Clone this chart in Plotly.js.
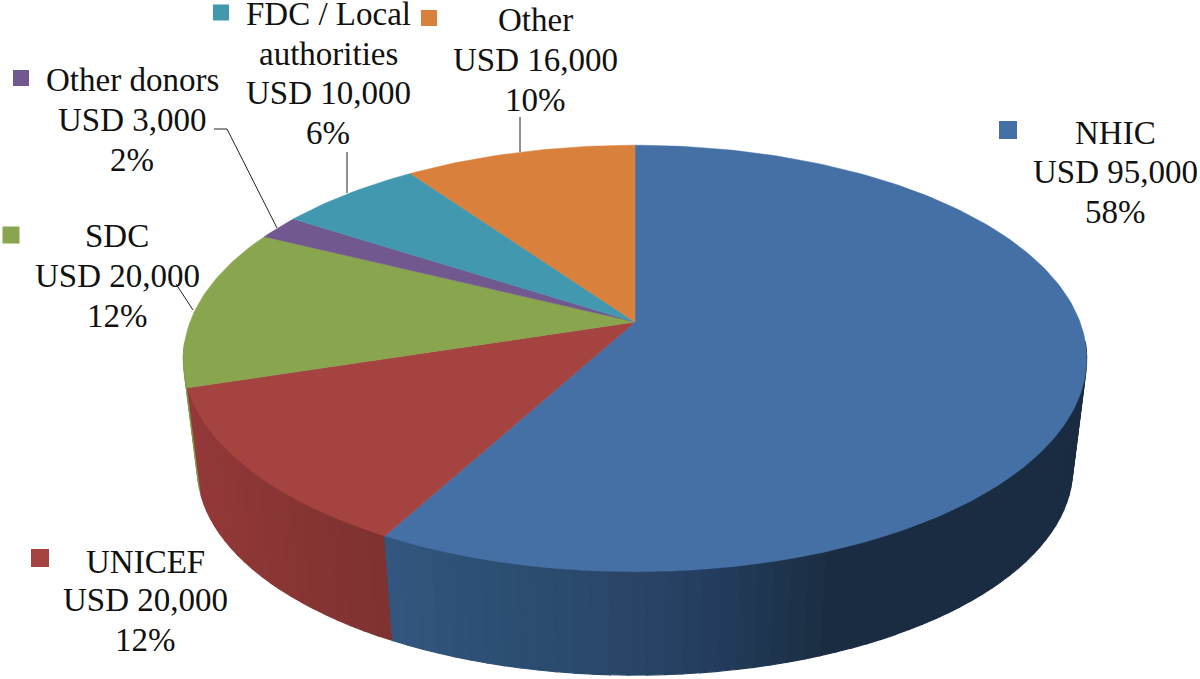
<!DOCTYPE html>
<html><head><meta charset="utf-8">
<script src="https://cdn.plot.ly/plotly-3.0.1.min.js"></script>
<style>html,body{margin:0;padding:0;background:#fff}#c{width:1200px;height:679px}</style>
</head><body><div id="c"></div>
<script>
// data
const categories = ["NHIC","UNICEF","SDC","Other donors","FDC / Local authorities","Other"];
const nameLines = [["NHIC"],["UNICEF"],["SDC"],["Other donors"],["FDC / Local","authorities"],["Other"]];
const values = [95000,20000,20000,3000,10000,16000];
const percents = ["58%","12%","12%","2%","6%","10%"];
const topColors = ["#4570a6","#a54340","#89a54e","#71588f","#4198af","#d9813c"];
// side shading: [x position, colour] stops
const sideStops = [
  [[385,"#33577f"],[520,"#2c4d72"],[640,"#284567"],[720,"#233c5c"],[790,"#1d3249"],[830,"#1a2c42"],[1100,"#1a2c42"]],
  [[190,"#96393a"],[260,"#8c3735"],[330,"#843432"],[392,"#7e3230"]],
  [[180,"#7d9a46"],[200,"#7d9a46"]],
  [[180,"#5f4a7a"],[300,"#5f4a7a"]],
  [[180,"#37819a"],[400,"#37819a"]],
  [[400,"#b96d33"],[640,"#b96d33"]]
];
// label placement
const labelX = [1115,145,117,132,328,535];
const labelLineY = [[133,172,212],[562,600,640],[236,276,316],[80,120,160],[14,54,93,133],[20,60,100]];
const keyX = [1008,40,11,21,221,429];
const keyY = [130,558,235,78,12.5,18];
const keySize = [18,18,17,16,16,16];
const leaderX = [[176,193],[347,347],[214,227,277],[520,520]];
const leaderY = [[284,310],[152,193],[129,129,228],[117,152]];
// pie geometry
const cx=635, cy=322, a=445, b=207, k=0.171;
const ecy=358.5, bcy=468.5, bs=0.969;
const topPt=t=>{const u=Math.sin(t),v=-Math.cos(t),w=1-k*v;return [cx+a*u/w,cy+b*v/w];};
const botPt=t=>{const p=topPt(t);return [cx+bs*(p[0]-cx),bcy+bs*(p[1]-ecy)];};
const hex=c=>[1,3,5].map(i=>parseInt(c.substr(i,2),16));
function shade(stops,x){
  if(x<=stops[0][0])return stops[0][1];
  for(let i=1;i<stops.length;i++){
    if(x<=stops[i][0]){
      const f=(x-stops[i-1][0])/(stops[i][0]-stops[i-1][0]);
      const A=hex(stops[i-1][1]),B=hex(stops[i][1]);
      return "rgb("+A.map((q,j)=>Math.round(q+(B[j]-q)*f)).join(",")+")";
    }
  }
  return stops[stops.length-1][1];
}
const total=values.reduce((p,q)=>p+q,0);
const rad=Math.PI/180;
let strips=[], faces=[], acc=0;
values.forEach((val,i)=>{
  const t0=acc/total*2*Math.PI, t1=(acc+val)/total*2*Math.PI; acc+=val;
  const n=Math.max(2,Math.ceil((t1-t0)/(1*rad)));
  const fx=[cx],fy=[cy];
  for(let j=0;j<=n;j++){const p=topPt(t0+(t1-t0)*j/n);fx.push(p[0]);fy.push(p[1]);}
  fx.push(cx);fy.push(cy);
  faces.push({x:fx,y:fy,type:"scatter",mode:"lines",fill:"toself",fillcolor:topColors[i],
    line:{color:topColors[i],width:0.5},hoverinfo:"skip",showlegend:false});
  const step=2*rad;
  const m=Math.max(1,Math.ceil((t1-t0)/step));
  for(let j=0;j<m;j++){
    const s0=t0+(t1-t0)*j/m,s1=t0+(t1-t0)*(j+1)/m,mid=(s0+s1)/2;
    if(mid<96*rad||mid>264*rad)continue;
    const A=topPt(s0),B=topPt(s1),C=botPt(s1),D=botPt(s0);
    const col=shade(sideStops[i],(C[0]+D[0])/2);
    strips.push({depth:-Math.cos(mid),trace:{x:[A[0],B[0],C[0],D[0],A[0]],y:[A[1],B[1],C[1],D[1],A[1]],
      type:"scatter",mode:"lines",fill:"toself",fillcolor:col,line:{color:col,width:1.2},hoverinfo:"skip",showlegend:false}});
  }
});
strips.sort((p,q)=>p.depth-q.depth);
const traces=strips.map(s=>s.trace).concat(faces);
leaderX.forEach((lx,i)=>traces.push({x:lx,y:leaderY[i],type:"scatter",mode:"lines",
  line:{color:"#222",width:1},hoverinfo:"skip",showlegend:false}));
traces.push({x:keyX,y:keyY,type:"scatter",mode:"markers",
  marker:{symbol:"square",size:keySize,color:topColors,opacity:1,line:{width:0}},hoverinfo:"skip",showlegend:false});
const annotations=[];
categories.forEach((c,i)=>{
  const lines=nameLines[i].concat(["USD "+values[i].toLocaleString("en-US"),percents[i]]);
  lines.forEach((txt,j)=>annotations.push({
    x:labelX[i],y:labelLineY[i][j],xref:"x",yref:"y",showarrow:false,xanchor:"center",yanchor:"middle",align:"center",
    text:txt,font:{family:"Liberation Serif, Times New Roman, serif",size:33,color:"#111"}
  }));
});
const layout={width:1200,height:679,margin:{l:0,r:0,t:0,b:0},paper_bgcolor:"#fff",plot_bgcolor:"#fff",showlegend:false,
  xaxis:{range:[0,1200],visible:false,fixedrange:true},
  yaxis:{range:[679,0],visible:false,fixedrange:true},
  annotations:annotations};
Plotly.newPlot("c",traces,layout,{displayModeBar:false,staticPlot:true});
</script></body></html>
